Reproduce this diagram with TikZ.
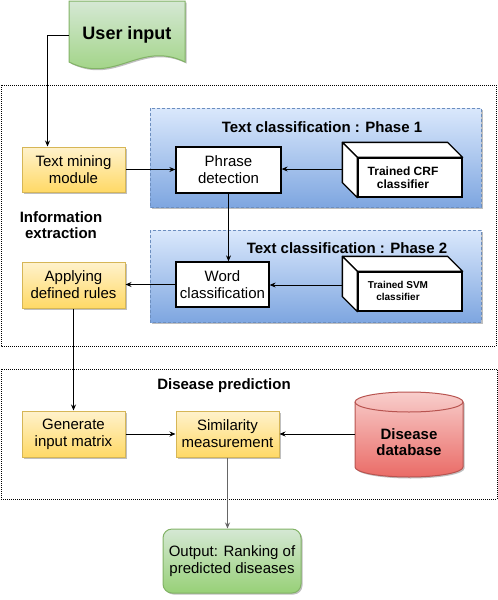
\documentclass[tikz,border=0pt]{standalone}
\usepackage{fontspec}
\setmainfont{Liberation Sans}
\usetikzlibrary{arrows.meta,shadows,calc}
\definecolor{ybord}{HTML}{D6B656}
\definecolor{ytop}{HTML}{FFF2CC}
\definecolor{ybot}{HTML}{FFD966}
\definecolor{gbord}{HTML}{82B366}
\definecolor{gtop}{HTML}{D5E8D4}
\definecolor{gbot}{HTML}{97D077}
\definecolor{rbord}{HTML}{B85450}
\definecolor{rtop}{HTML}{F8CECC}
\definecolor{rbot}{HTML}{EA6B66}
\definecolor{bbord}{HTML}{6C8EBF}
\definecolor{btop}{HTML}{DAE8FC}
\definecolor{bbot}{HTML}{7EA6E0}
\tikzset{
  shad/.style={drop shadow={shadow xshift=1.5pt,shadow yshift=-1.5pt,opacity=0.25,fill=black}},
  txt/.style={font=\fontsize{15}{17}\selectfont, align=center, inner sep=0pt},
  btxt/.style={font=\bfseries\fontsize{15}{16}\selectfont, align=center, inner sep=0pt},
  ybox/.style={txt, draw=ybord, line width=1pt, top color=ytop, bottom color=ybot, shad, minimum width=103pt},
  wbox/.style={txt, draw=black, line width=1.3pt, fill=white},
  cubeline/.style={draw=black, line width=1.3pt, fill=white, line join=round},
  outerbox/.style={draw=black, line width=1pt, dash pattern=on 1pt off 1pt},
  phasebox/.style={draw=bbord, line width=1pt, dash pattern=on 3pt off 2pt, top color=btop, bottom color=bbot, shad},
  arr/.style={draw=black, line width=0.8pt, -{Stealth[length=6pt,width=5pt]}},
}
\begin{document}
\begin{tikzpicture}[x=1pt,y=-1pt]
\useasboundingbox (0,0) rectangle (498,600);

% outer dotted boxes
\draw[outerbox] (1,85) rectangle (496,346);
\draw[outerbox] (1,369) rectangle (497,499);

% phase boxes
\path[phasebox] (150,108) rectangle (481,207);
\path[phasebox] (150,230) rectangle (481,322);
\node[btxt] (ph1) at (322,127) {Text classification : Phase 1};
\node[btxt] (ph2) at (347,248) {Text classification : Phase 2};

% user input document shape
\path[draw=gbord, line width=1pt, top color=gtop, bottom color=gbot, shad]
  (69,1) -- (185,1) -- (185,62) .. controls (140,40) and (115,85) .. (69,62) -- cycle;
\node[font=\bfseries\fontsize{18}{20}\selectfont, inner sep=0pt, minimum width=116pt] (ui) at (127,35) {User input};

% yellow boxes
\node[ybox, minimum height=45pt] (tm) at (73.5,169.5) {Text mining\\module};
\node[ybox, minimum height=46pt] (app) at (73.5,285) {Applying\\defined rules};
\node[ybox, minimum height=46pt] (gen) at (73.5,434) {Generate\\input matrix};
\node[ybox, minimum height=46pt] (sim) at (227.5,434) {Similarity\\measurement};

% labels
\node[btxt] (ie) at (61,225.5) {Information\\extraction};
\node[btxt] (dp) at (224,386) {Disease prediction};

% white boxes
\node[wbox, minimum width=105pt, minimum height=46pt] (pd) at (228.5,170) {Phrase\\detection};
\node[wbox, minimum width=93pt, minimum height=45pt] (wc) at (222.5,284.5) {Word\\classification};

% cubes
\node[draw=black, line width=1.3pt, fill=white, minimum width=104pt, minimum height=39pt, inner sep=0pt] (crf) at (410,177.5) {};
\draw[cubeline] ($(crf.north west)+(-15,-15)$) -- ($(crf.north east)+(-15,-15)$) -- (crf.north east) -- (crf.north west) -- cycle;
\draw[cubeline] ($(crf.north west)+(-15,-15)$) -- (crf.north west) -- (crf.south west) -- ($(crf.south west)+(-15,-15)$) -- cycle;
\node[font=\bfseries\fontsize{12}{13.5}\selectfont, align=center, inner sep=0pt] (crft) at (403,177.5) {Trained CRF\\classifier};

\node[draw=black, line width=1.3pt, fill=white, minimum width=104pt, minimum height=39pt, inner sep=0pt] (svm) at (410,291.5) {};
\draw[cubeline] ($(svm.north west)+(-15,-15)$) -- ($(svm.north east)+(-15,-15)$) -- (svm.north east) -- (svm.north west) -- cycle;
\draw[cubeline] ($(svm.north west)+(-15,-15)$) -- (svm.north west) -- (svm.south west) -- ($(svm.south west)+(-15,-15)$) -- cycle;
\node[font=\bfseries\fontsize{10}{12}\selectfont, align=center, inner sep=0pt] (svmt) at (398,291) {Trained SVM\\classifier};

% cylinder
\path[draw=rbord, line width=1pt, top color=rtop, bottom color=rbot, shad]
  (355,402) -- (355,467) arc[start angle=180, end angle=0, x radius=54, y radius=10]
  -- (463,402) arc[start angle=0, end angle=-180, x radius=54, y radius=10] -- cycle;
\draw[draw=rbord, line width=1pt] (355,402) arc[start angle=180, end angle=0, x radius=54, y radius=10];
\node[minimum width=108pt, minimum height=85pt, inner sep=0pt] (db) at (409,434) {};
\node[btxt] (dbt) at (409,442) {Disease\\database};

% output
\node[txt, draw=gbord, line width=1pt, top color=gtop, bottom color=gbot, shad, rounded corners=9pt, minimum width=138pt, minimum height=64pt] (out) at (232,561) {Output: Ranking of\\predicted diseases};

% connectors
\coordinate (tmin) at ($(tm.north west)+(26,0)$);
\draw[arr] (ui.west) -| (tmin);
\draw[arr] (tm.east) -- (tm.east -| pd.west);
\coordinate (crfl) at ($(crf.west)+(-15,-8.5)$);
\draw[arr] (crfl) -- (crfl -| pd.east);
\draw[arr] (pd.south) -- (pd.south |- wc.north);
\coordinate (svml) at ($(svm.west)+(-15,-6.5)$);
\draw[arr] (svml) -- (svml -| wc.east);
\draw[arr] (wc.west) -- (wc.west -| app.east);
\draw[arr] (app.south) -- (gen.north);
\draw[arr] (gen.east) -- (sim.west);
\draw[arr] (db.west) -- (db.west -| sim.east);
\draw[arr, draw=black!60] (sim.south) -- (sim.south |- out.north);
\end{tikzpicture}
\end{document}
